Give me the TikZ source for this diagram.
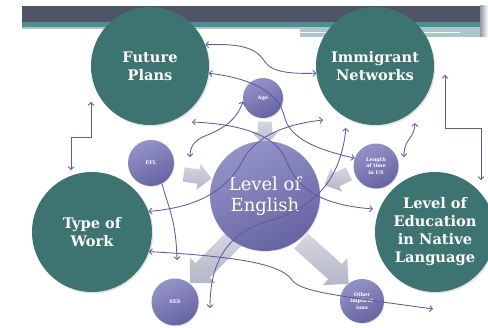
\documentclass[tikz,border=0pt]{standalone}
\usepackage{fontspec}
\setmainfont{DejaVu Serif}
\usetikzlibrary{arrows.meta,shapes.arrows,shadows}
\definecolor{tealc}{HTML}{3D7371}
\definecolor{purL}{HTML}{9493C8}
\definecolor{purD}{HTML}{6564A2}
\definecolor{linkc}{HTML}{5A5B9E}
\definecolor{argL}{HTML}{D6D7E1}
\definecolor{argD}{HTML}{B5B6C6}
\definecolor{hdark}{HTML}{4F5566}
\definecolor{hteal}{HTML}{4E8D90}
\definecolor{hlight}{HTML}{A9C8C8}
\tikzset{
  bigc/.style={circle, fill=tealc, text=white, inner sep=0pt, align=center,
    font=\bfseries\fontsize{14.6}{18}\selectfont,
    drop shadow={opacity=0.22, shadow xshift=1.2pt, shadow yshift=-1.5pt}},
  smallc/.style={circle, top color=purL, bottom color=purD, shading angle=25,
    text=white, inner sep=0pt, align=center,
    font=\bfseries\fontsize{5}{6.6}\selectfont,
    drop shadow={opacity=0.2, shadow xshift=0.8pt, shadow yshift=-1pt}},
  blockarrow/.style={single arrow, top color=argL, bottom color=argD, draw=none,
    inner xsep=0pt, inner ysep=7pt, single arrow head extend=6pt},
  bigarrow/.style={blockarrow, inner ysep=10pt, single arrow head extend=8pt},
  tip/.tip={Straight Barb[length=2.8pt,width=6pt]},
  link/.style={draw=linkc, line width=0.85pt, tip-tip},
  link1/.style={draw=linkc, line width=0.85pt, -tip},
}
\begin{document}
\begin{tikzpicture}[x=1pt,y=-1pt]
\useasboundingbox (0,0) rectangle (488,328);
% header band
\fill[hdark] (22,6) rectangle (480,22);
\fill[hteal] (22,22) rectangle (480,27);
\fill[hlight] (22,27) rectangle (300,29.5);
\fill[hlight] (300,27) rectangle (480,37);
\fill[white] (300,31.8) rectangle (460,33.2);
\shade[left color=hdark!60, right color=white] (480,6) rectangle (488,37);
% grey block arrows (under the circles)
\node[blockarrow, minimum height=24pt, rotate=-90] (ba1) at (265,130) {};
\node[blockarrow, minimum height=28pt, rotate=-8] (ba2) at (194,176) {};
\node[blockarrow, minimum height=27pt, rotate=205] (ba3) at (340,178) {};
\node[bigarrow, minimum height=64pt, rotate=225] (ba4) at (216,257) {};
\node[bigarrow, minimum height=64pt, rotate=-42] (ba5) at (321,259) {};
% main circles
\node[bigc, minimum size=118pt] (FP) at (150,66) {Future\\Plans};
\node[bigc, minimum size=118pt] (IN) at (375,66) {Immigrant\\Networks};
\node[bigc, minimum size=120pt] (TW) at (92,232) {Type of\\Work};
\node[bigc, minimum size=120pt] (ED) at (435,232) {Level of\\Education\\in Native\\Language};
\node[smallc, minimum size=110pt, font=\fontsize{18}{21}\selectfont] (LE) at (265,196) {Level of\\English};
\node[smallc, minimum size=40pt] (Age) at (263,98) {Age};
\node[smallc, minimum size=46pt] (EFL) at (151,163) {EFL};
\node[smallc, minimum size=45pt] (Len) at (376,166) {Length\\of time\\in US};
\node[smallc, minimum size=47pt] (SES) at (175,302) {SES};
\node[smallc, minimum size=44pt] (Oth) at (362,301) {Other\\implicat\\ions};
% free connector ends
\coordinate (c2a) at (192,122);
\coordinate (c2b) at (373,209);
\coordinate (c4b) at (190,157);
\coordinate (c5b) at (323,120);
\coordinate (c6a) at (346,128);
\coordinate (c6b) at (210,308);
\coordinate (c7b) at (177,260);
\coordinate (c8b) at (433,309);
\coordinate (c9a) at (91,102);
\coordinate (c9b) at (71,170);
\coordinate (c10a) at (445,75);
\coordinate (c10b) at (481,180);
\coordinate (c11a) at (415,123);
\coordinate (c11b) at (404,157);
% connectors
\draw[link] (FP.21) .. controls (245,43) and (258,50) .. (265,62) .. controls (272,72) and (290,74) .. (IN.187);
\draw[link] (c2a) .. controls (240,124) and (275,135) .. (285,158) .. controls (295,182) and (310,204) .. (c2b);
\draw[link] (FP.-7) .. controls (250,78) and (278,92) .. (284,115) .. controls (289,140) and (320,150) .. (Len.160);
\draw[link] (Age.190) .. controls (236,120) and (225,128) .. (205,136) .. controls (193,141) and (190,148) .. (c4b);
\draw[link] (TW.20) .. controls (190,208) and (225,195) .. (243,160) .. controls (258,132) and (295,123) .. (c5b);
\draw[link] (c6a) .. controls (340,185) and (310,210) .. (265,222) .. controls (225,235) and (210,265) .. (c6b);
\draw[link1] (EFL.-62) .. controls (170,212) and (176,222) .. (c7b);
\draw[link] (TW.-19) .. controls (225,256) and (280,262) .. (292,280) .. controls (300,292) and (340,296) .. (c8b);
\draw[link] (c9a) -- ++(0,35) -| (c9b);
\draw[link] (c10a) -- ++(0,53) -| (c10b);
\draw[link] (c11a) .. controls (414,140) and (404,138) .. (c11b);
\end{tikzpicture}
\end{document}
